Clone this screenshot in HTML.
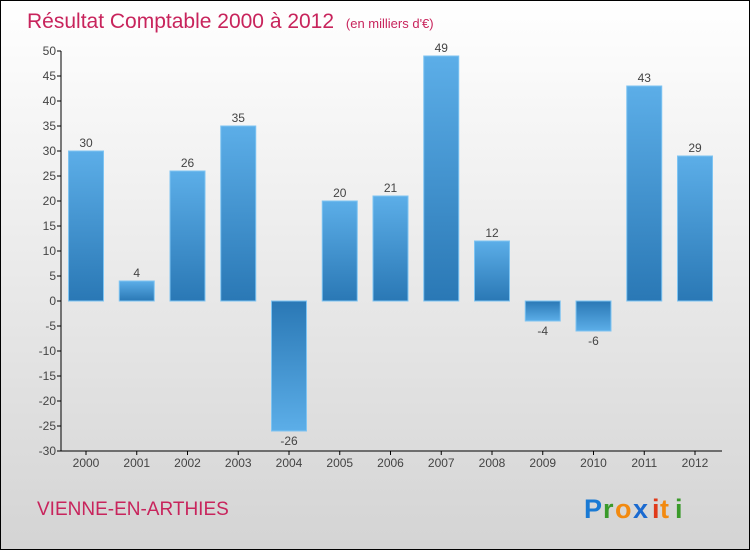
<!DOCTYPE html>
<html><head><meta charset="utf-8"><style>
body{margin:0}
#c{width:748px;height:548px;border:1px solid #000;background:linear-gradient(#ffffff,#d4d4d4);position:relative;overflow:hidden;font-family:"Liberation Sans",sans-serif}
svg{position:absolute;left:0;top:0}
</style></head><body>
<div id="c">
<svg id="s" width="748" height="548">
<defs>
<linearGradient id="gp" x1="0" y1="0" x2="0" y2="1"><stop offset="0" stop-color="#5caee8"/><stop offset="1" stop-color="#2a78b5"/></linearGradient>
<linearGradient id="gn" x1="0" y1="0" x2="0" y2="1"><stop offset="0" stop-color="#2a78b5"/><stop offset="1" stop-color="#5caee8"/></linearGradient>
</defs>
<text x="26" y="27" font-size="21" fill="#c8245c">Résultat Comptable 2000 à 2012 <tspan font-size="13" dx="6">(en milliers d'€)</tspan></text>
<text x="36" y="514" font-size="19" fill="#c8245c">VIENNE-EN-ARTHIES</text>
<g font-size="27" font-weight="bold" font-family="Liberation Sans,sans-serif">
<text x="583" y="517" fill="#1a7ad4">P</text><text x="602" y="517" fill="#3a9a2a">r</text><text x="614" y="517" fill="#f28a10">o</text><text x="632" y="517" fill="#1a6ad0">x</text><text x="651" y="517" fill="#e03a1a">i</text><text x="659" y="517" fill="#f28a10">t</text><text x="674" y="517" fill="#3a9a2a">i</text>
</g>
<g id="g"></g>
</svg></div>
<script>
const years=["2000","2001","2002","2003","2004","2005","2006","2007","2008","2009","2010","2011","2012"];
const values=[30,4,26,35,-26,20,21,49,12,-4,-6,43,29];
const yTicks=[50,45,40,35,30,25,20,15,10,5,0,-5,-10,-15,-20,-25,-30];
const NS="http://www.w3.org/2000/svg",g=document.getElementById('g');
const y=v=>300-(v*5), x=i=>85+i*50.75;
function mk(t,a){const e=document.createElementNS(NS,t);for(const k in a)e.setAttribute(k,a[k]);g.appendChild(e);return e;}
yTicks.forEach(v=>{
 const l=mk('line',{x1:56,x2:60,y1:y(v),y2:y(v),stroke:'#000'});
 
 
 const t=mk('text',{x:55,y:y(v)+4,'text-anchor':'end','font-size':12,fill:'#444'});t.textContent=v;
 
 
});
values.forEach((v,i)=>{
 const top=Math.min(y(v),y(0)),h=Math.abs(y(v)-y(0));
 const r=mk('rect',{x:x(i)-17.5,y:top,width:35,height:h,fill:v>=0?'url(#gp)':'url(#gn)',stroke:'#7ec4f2','stroke-width':1});
 
 
 const t=mk('text',{x:x(i),y:v>=0?y(v)-4:y(v)+14,'text-anchor':'middle','font-size':12,fill:'#444'});t.textContent=v;
 
 
 const tk=mk('line',{x1:x(i),x2:x(i),y1:450,y2:454,stroke:'#000'});
 
 
 const xl=mk('text',{x:x(i),y:466,'text-anchor':'middle','font-size':12,fill:'#444'});xl.textContent=years[i];
 
 
});
const ya=mk('line',{x1:60,x2:60,y1:50,y2:450,stroke:'#000'});


const xa=mk('line',{x1:60,x2:721,y1:450,y2:450,stroke:'#000'});


</script>
</body></html>
